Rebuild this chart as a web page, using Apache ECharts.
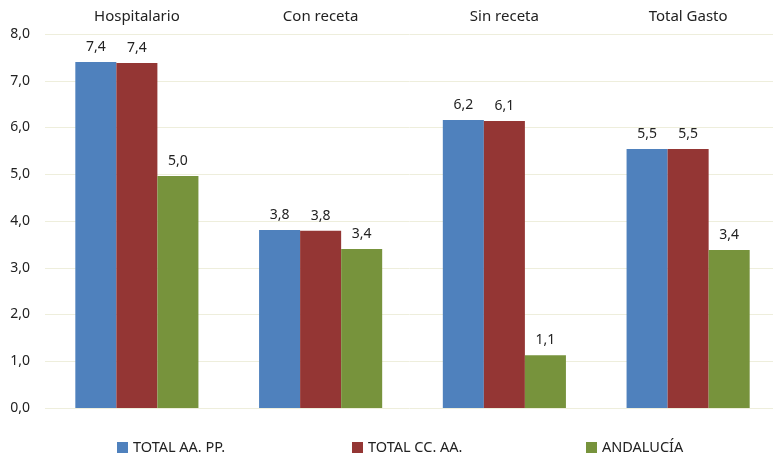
<!DOCTYPE html>
<html><head><meta charset="utf-8">
<script src="https://cdn.jsdelivr.net/npm/echarts@6/dist/echarts.min.js"></script>
<style>html,body{margin:0;padding:0;background:#fff}#c{width:773px;height:455px}</style>
</head><body><div id="c"></div>
<script>
const categories = ['Hospitalario', 'Con receta', 'Sin receta', 'Total Gasto'];
const seriesNames = ['TOTAL AA. PP.', 'TOTAL CC. AA.', 'ANDALUCÍA'];
const totalAAPP = [7.40, 3.81, 6.16, 5.54];
const totalCCAA = [7.38, 3.79, 6.14, 5.54];
const andalucia = [4.96, 3.40, 1.13, 3.38];
const yTicks = [0, 1, 2, 3, 4, 5, 6, 7, 8];

const colors = ['#4F81BD', '#943634', '#77933C'];
const fmt = v => v.toFixed(1).replace('.', ',');
const FONT = 'Noto Sans';
const chart = echarts.init(document.getElementById('c'));
const data = [totalAAPP, totalCCAA, andalucia];
chart.setOption({
  animation: false,
  textStyle: { fontFamily: FONT },
  grid: { left: 45, right: -7, top: 34, bottom: 47, outerBoundsMode: 'none', containLabel: false },
  legend: seriesNames.map((n, i) => ({
    data: [n], left: [112, 347, 581][i], top: 435, itemWidth: 11, itemHeight: 11, itemGap: 4,
    icon: 'rect', textStyle: { fontSize: 14.5, color: '#222', fontFamily: FONT }
  })),
  xAxis: {
    type: 'category', data: categories, position: 'top',
    axisLine: { show: false }, axisTick: { show: false },
    axisLabel: { fontSize: 15, color: '#222', margin: 10, fontFamily: FONT }
  },
  yAxis: {
    type: 'value', min: yTicks[0], max: yTicks[yTicks.length - 1], interval: 1,
    axisLine: { show: false }, axisTick: { show: false },
    axisLabel: { fontSize: 14, color: '#222', margin: 15, formatter: v => fmt(v), fontFamily: FONT },
    splitLine: { lineStyle: { color: '#EEEEDC', width: 1 } }
  },
  series: seriesNames.map((n, i) => ({
    name: n, type: 'bar', data: data[i], barGap: '0%', barCategoryGap: '33%',
    itemStyle: { color: colors[i] },
    label: { show: true, position: 'top', distance: 8, fontSize: 14, color: '#222', fontFamily: FONT, formatter: p => fmt(p.value) }
  }))
});
</script></body></html>
